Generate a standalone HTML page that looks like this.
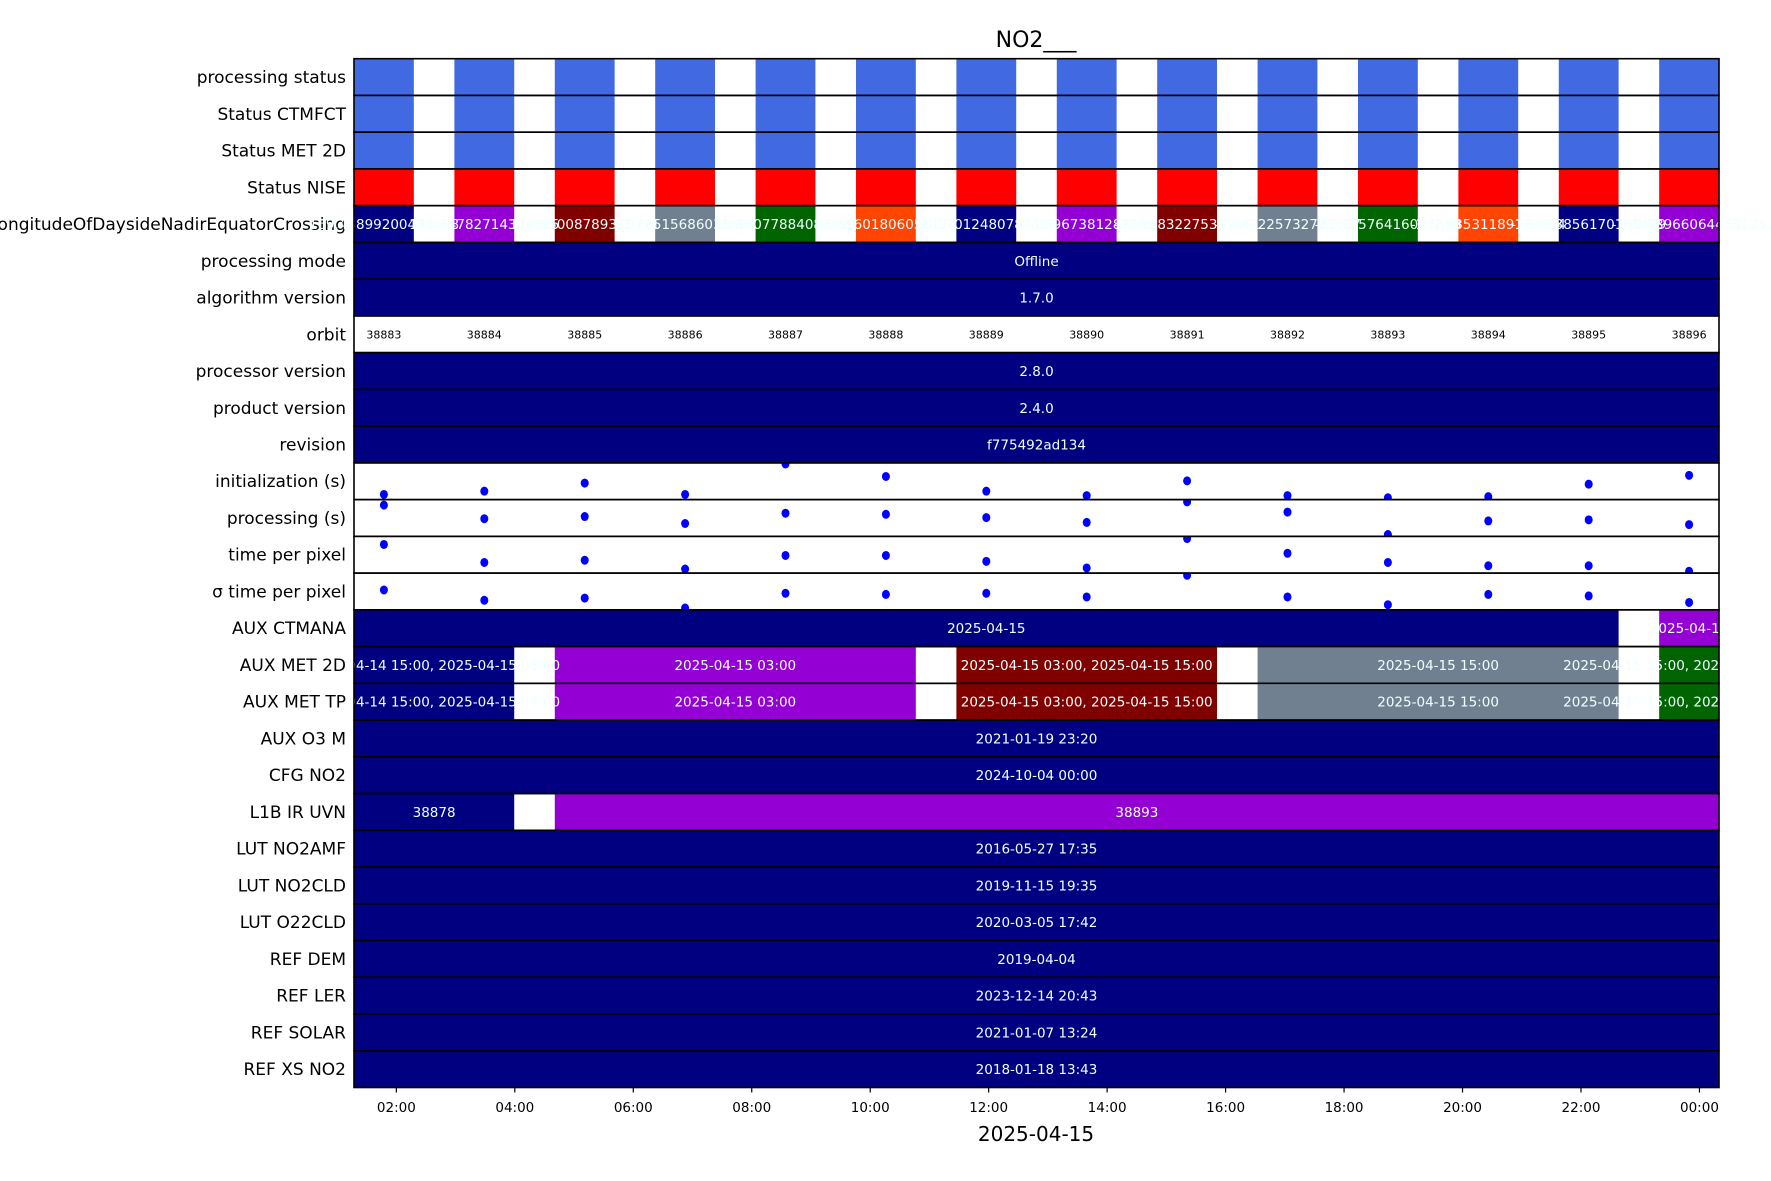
<!DOCTYPE html>
<html><head><meta charset="utf-8"><style>
html,body{margin:0;padding:0;background:#fff;}
svg{display:block;font-family:"DejaVu Sans","Liberation Sans",sans-serif;}
</style></head><body>
<svg id="chart" width="1771" height="1181" viewBox="0 0 1771 1181" xmlns="http://www.w3.org/2000/svg">
<text x="1036" y="47" font-size="22" text-anchor="middle">NO2___</text>
<text x="1036" y="1141" font-size="20" text-anchor="middle">2025-04-15</text>
<g id="rows"></g>
<g id="xaxis"></g>
</svg>
<script>
// ---- data (hours since 2025-04-15 00:00) ----
const orbitStarts = [1.285, 2.98, 4.675, 6.37, 8.065, 9.76, 11.455, 13.15, 14.845, 16.54, 18.235, 19.93, 21.625, 23.32];
const orbitDuration = 1.01;
const orbitNumbers = ["38883","38884","38885","38886","38887","38888","38889","38890","38891","38892","38893","38894","38895","38896"];
const rowLabels = ["processing status","Status CTMFCT","Status MET 2D","Status NISE","LongitudeOfDaysideNadirEquatorCrossing","processing mode","algorithm version","orbit","processor version","product version","revision","initialization (s)","processing (s)","time per pixel","\u03c3 time per pixel","AUX CTMANA","AUX MET 2D","AUX MET TP","AUX O3   M","CFG NO2","L1B IR UVN","LUT NO2AMF","LUT NO2CLD","LUT O22CLD","REF DEM","REF LER","REF SOLAR","REF XS NO2"];
const longitudeText = ["169.43899200451468","144.14782714304595","118.95008789310721","93.74515686035686","68.56077884083692","43.35601806056176","18.17012480787895","-7.05967381287359","-32.26832275339061","-57.41225732721087","-82.70576416007578","-107.93531189123564","-133.13856170165409","-158.33966064453125"];
const longitudeColors = ["#000080","#9400d3","#800000","#708090","#006400","#ff4500","#000080","#9400d3","#800000","#708090","#006400","#ff4500","#000080","#9400d3"];
const initValues = [0.14,0.23,0.45,0.14,0.97,0.63,0.23,0.11,0.51,0.11,0.05,0.08,0.42,0.66];
const procValues = [0.85,0.48,0.54,0.35,0.63,0.60,0.51,0.38,0.94,0.66,0.05,0.42,0.45,0.32];
const tppValues = [0.78,0.29,0.35,0.11,0.48,0.48,0.32,0.14,0.94,0.54,0.29,0.20,0.20,0.05];
const sigmaValues = [0.54,0.26,0.32,0.05,0.45,0.42,0.45,0.35,0.94,0.35,0.14,0.42,0.38,0.20];
const fullRows = {5:"Offline",6:"1.7.0",8:"2.8.0",9:"2.4.0",10:"f775492ad134",18:"2021-01-19 23:20",19:"2024-10-04 00:00",21:"2016-05-27 17:35",22:"2019-11-15 19:35",23:"2020-03-05 17:42",24:"2019-04-04",25:"2023-12-14 20:43",26:"2021-01-07 13:24",27:"2018-01-18 13:43"};
// segments: [firstOrbit, lastOrbit, color, label]
const ctmanaSegs = [[0,12,"#000080","2025-04-15"],[13,13,"#9400d3","2025-04-16"]];
const met2dSegs = [[0,1,"#000080","2025-04-14 15:00, 2025-04-15 03:00"],[2,5,"#9400d3","2025-04-15 03:00"],[6,8,"#800000","2025-04-15 03:00, 2025-04-15 15:00"],[9,12,"#708090","2025-04-15 15:00"],[13,13,"#006400","2025-04-15 15:00, 2025-04-16 03:00"]];
const mettpSegs = [[0,1,"#000080","2025-04-14 15:00, 2025-04-15 03:00"],[2,5,"#9400d3","2025-04-15 03:00"],[6,8,"#800000","2025-04-15 03:00, 2025-04-15 15:00"],[9,12,"#708090","2025-04-15 15:00"],[13,13,"#006400","2025-04-15 15:00, 2025-04-16 03:00"]];
const l1bSegs = [[0,1,"#000080","38878"],[2,13,"#9400d3","38893"]];
const tickHours = [2,4,6,8,10,12,14,16,18,20,22,24];
const tickLabels = ["02:00","04:00","06:00","08:00","10:00","12:00","14:00","16:00","18:00","20:00","22:00","00:00"];

// ---- layout ----
const L=354, R=1719, T=58.7, B=1087.5;
const xMin=1.285, xMax=24.33;
const rowH=(B-T)/rowLabels.length;
const X=h=>L+(h-xMin)/(xMax-xMin)*(R-L);
const NS="http://www.w3.org/2000/svg";
const rowsG=document.getElementById('rows');
function mk(tag,attrs,parent){const e=document.createElementNS(NS,tag);for(const k in attrs)e.setAttribute(k,attrs[k]);(parent||rowsG).appendChild(e);return e;}
const clip=mk('clipPath',{id:'plotclip'});mk('rect',{x:L,y:T,width:R-L,height:B-T},clip);
const statusColors=["#4169e1","#4169e1","#4169e1","#ff0000"];

rowLabels.forEach((lab,i)=>{
  const y0=T+i*rowH, yc=y0+rowH/2;
  const g=mk('g',{});
  
  
  const t=mk('text',{x:346,y:yc+6,'font-size':17,'text-anchor':'end'},g);
  t.textContent=lab;
  
  
  const cg=mk('g',{'clip-path':'url(#plotclip)'},g);
  function segs(list){
    list.forEach(s=>{
      const x0=X(orbitStarts[s[0]]), x1=X(orbitStarts[s[1]]+orbitDuration);
      const r=mk('rect',{x:x0,y:y0,width:x1-x0,height:rowH,fill:s[2]},cg);
      
      
    });
    list.forEach(s=>{
      const x0=X(orbitStarts[s[0]]), x1=X(orbitStarts[s[1]]+orbitDuration);
      const tx=mk('text',{x:(x0+x1)/2,y:yc+5,'font-size':13.5,fill:'#f0ffff','text-anchor':'middle'},cg);
      tx.textContent=s[3];
      
      
    });
  }
  if(i<4){
    orbitStarts.forEach((s,k)=>{
      const r=mk('rect',{x:X(s),y:y0,width:X(s+orbitDuration)-X(s),height:rowH,fill:statusColors[i]},cg);
      
      
    });
  } else if(i===4){
    orbitStarts.forEach((s,k)=>{
      const r=mk('rect',{x:X(s),y:y0,width:X(s+orbitDuration)-X(s),height:rowH,fill:longitudeColors[k]},cg);
      
      
    });
    orbitStarts.forEach((s,k)=>{
      const tx=mk('text',{x:X(s+orbitDuration/2),y:yc+5,'font-size':13.5,fill:'#f0ffff','text-anchor':'middle'},g);
      tx.textContent=longitudeText[k];
      
      
    });
  } else if(i===7){
    orbitStarts.forEach((s,k)=>{
      const tx=mk('text',{x:X(s+orbitDuration/2),y:yc+4,'font-size':11,fill:'#000','text-anchor':'middle'},cg);
      tx.textContent=orbitNumbers[k];
      
      
    });
  } else if(i>=11&&i<=14){
    const vals=[initValues,procValues,tppValues,sigmaValues][i-11];
    const rc=mk('clipPath',{id:'rc'+i});mk('rect',{x:L,y:y0,width:R-L,height:rowH},rc);
    const pg=mk('g',{'clip-path':'url(#rc'+i+')'},g);
    vals.forEach((v,k)=>{
      const c=mk('ellipse',{cx:X(orbitStarts[k]+orbitDuration/2),cy:y0+rowH*(1-v),rx:4,ry:4.5,fill:'#0000ff'},pg);
      
      
    });
  } else if(i===15) segs(ctmanaSegs);
  else if(i===16) segs(met2dSegs);
  else if(i===17) segs(mettpSegs);
  else if(i===20) segs(l1bSegs);
  else if(fullRows[i]!==undefined){
    mk('rect',{x:L,y:y0,width:R-L,height:rowH,fill:'#000080'},cg);
    const tx=mk('text',{x:(L+R)/2,y:yc+5,'font-size':13.5,fill:'#f0ffff','text-anchor':'middle'},cg);
    tx.textContent=fullRows[i];
    
    
  }
  const fr=mk('rect',{x:L,y:y0,width:R-L,height:rowH,fill:'none',stroke:'#000','stroke-width':1.6},g);
  
  
});
const xg=document.getElementById('xaxis');
tickHours.forEach((h,k)=>{
  const x=X(h);
  const ln=mk('line',{x1:x,x2:x,y1:B,y2:B+5,stroke:'#000','stroke-width':1.2},xg);
  
  
  const tx=mk('text',{x:x,y:1112,'font-size':13.5,'text-anchor':'middle'},xg);
  tx.textContent=tickLabels[k];
  
  
});
</script>
</body></html>
